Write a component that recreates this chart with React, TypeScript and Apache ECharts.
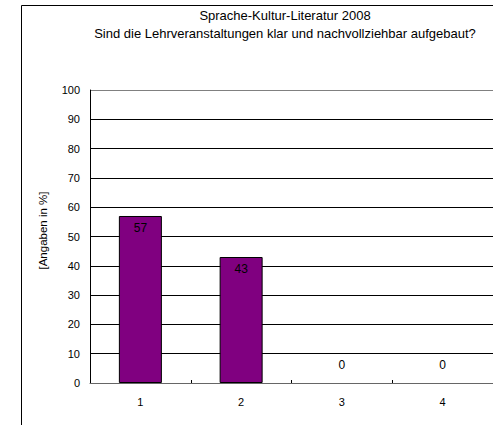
import React, { useEffect, useRef } from "react";
import * as echarts from "echarts";

const titleLines = [
  "Sprache-Kultur-Literatur 2008",
  "Sind die Lehrveranstaltungen klar und nachvollziehbar aufgebaut?",
];
const categories = ["1", "2", "3", "4"];
const values = [57, 43, 0, 0];
const yAxisName = "[Angaben in %]";

export default function App() {
  const ref = useRef<HTMLDivElement>(null);
  useEffect(() => {
    if (!ref.current) return;
    const chart = echarts.init(ref.current, null, { renderer: "svg" });
    const font = "Liberation Sans, Arial, sans-serif";
    const splitColors = ["#808080", "#000", "#000", "#000", "#000", "#000", "#000", "#000", "#000", "#000", "#808080"];
    chart.setOption({
      animation: false,
      backgroundColor: "#fff",
      graphic: [
        {
          type: "rect",
          shape: { x: 21.5, y: 5.5, width: 600, height: 600 },
          style: { fill: "none", stroke: "#000", lineWidth: 1 },
          silent: true,
          z: 100,
        },
        ...titleLines.map((t, i) => ({
          type: "text",
          x: 285,
          y: 15 + i * 18,
          style: {
            text: t,
            fontFamily: font,
            fontSize: 13,
            fill: "#000",
            textAlign: "center",
            textVerticalAlign: "middle",
          },
          silent: true,
        })),
      ],
      grid: { left: 90, top: 90, right: -9, bottom: 42, containLabel: false },
      xAxis: {
        type: "category",
        data: categories,
        axisLine: { show: true, lineStyle: { color: "#666", width: 1 } },
        axisTick: { show: true, inside: true, length: 3, lineStyle: { color: "#000" } },
        axisLabel: { fontFamily: font, fontSize: 11, color: "#000", margin: 13 },
      },
      yAxis: {
        type: "value",
        min: 0,
        max: 100,
        interval: 10,
        name: yAxisName,
        nameLocation: "middle",
        nameGap: 41,
        nameTextStyle: { fontFamily: font, fontSize: 11.5, color: "#000", padding: [0, 0, 0, 12] },
        axisLine: { show: true, lineStyle: { color: "#000", width: 1 } },
        axisTick: { show: false },
        axisLabel: { fontFamily: font, fontSize: 11, color: "#000", margin: 10 },
        splitLine: { show: true, lineStyle: { color: splitColors, width: 1 } },
      },
      series: [
        {
          type: "bar",
          barWidth: 43,
          data: values.map((v) => ({
            value: v,
            itemStyle: v === 0 ? { borderWidth: 0 } : undefined,
            label: v === 0
              ? { show: true, position: "top", distance: 12 }
              : { show: true, position: "insideTop", distance: 6 },
          })),
          itemStyle: { color: "#800080", borderColor: "#000", borderWidth: 1 },
          label: { fontFamily: font, fontSize: 12, color: "#000" },
        },
      ],
    });
    return () => chart.dispose();
  }, []);
  return (
    <div
      ref={ref}
      style={{ position: "fixed", left: 0, top: 0, width: 493, height: 425 }}
    />
  );
}
